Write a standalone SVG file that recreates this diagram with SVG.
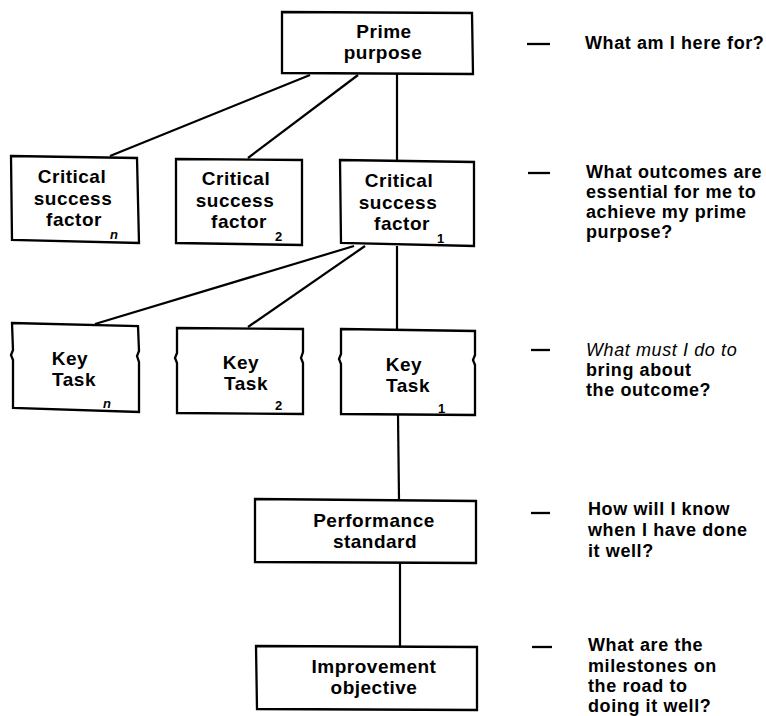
<svg xmlns="http://www.w3.org/2000/svg" width="766" height="716" viewBox="0 0 766 716">
<style>
.box{fill:#fff;stroke:#000;stroke-width:2.3;stroke-linejoin:miter}
.lbl{font-family:"Liberation Sans",Arial,sans-serif;font-weight:bold;font-size:19px;letter-spacing:0.5px;text-anchor:middle;fill:#000}
.sub{font-family:"Liberation Sans",Arial,sans-serif;font-weight:bold;font-size:13px;fill:#000}
.q{font-family:"Liberation Sans",Arial,sans-serif;font-weight:bold;font-size:18px;letter-spacing:0.6px;fill:#000}
.dash{stroke:#000;stroke-width:2.3}
.conn line{stroke:#000;stroke-width:2.2}
</style>
<rect width="766" height="716" fill="#fff"/>
<g class="conn" id="connectors">
<line x1="310" y1="75" x2="110" y2="156"/>
<line x1="358" y1="75" x2="248" y2="158"/>
<line x1="397" y1="74" x2="397" y2="160"/>
<line x1="354" y1="246" x2="95" y2="324"/>
<line x1="365" y1="246" x2="248" y2="327"/>
<line x1="397" y1="246" x2="397" y2="329"/>
<line x1="398" y1="415" x2="399" y2="499"/>
<line x1="400" y1="563" x2="400" y2="646"/>
</g>
<g id="prime">
<path class="box" d="M282,12 L472,13 L473,74 L282,73 Z"/>
<text class="lbl" x="384" y="38">Prime</text>
<text class="lbl" x="383" y="59">purpose</text>
</g>
<g id="csf-n">
<path class="box" d="M11,156 L137,158 L139,243 L12,240 Z"/>
<text class="lbl" x="72" y="183">Critical</text>
<text class="lbl" x="73" y="205">success</text>
<text class="lbl" x="74" y="226">factor</text>
<text class="sub" x="110" y="239" font-style="italic">n</text>
</g>
<g id="csf-2">
<path class="box" d="M176,159 L302,160 L302,245 L176,243 Z"/>
<text class="lbl" x="236" y="185">Critical</text>
<text class="lbl" x="235" y="207">success</text>
<text class="lbl" x="239" y="228">factor</text>
<text class="sub" x="275" y="241">2</text>
</g>
<g id="csf-1">
<path class="box" d="M340,160 L474,162 L474,246 L341,243 Z"/>
<text class="lbl" x="399" y="187">Critical</text>
<text class="lbl" x="398" y="209">success</text>
<text class="lbl" x="402" y="230">factor</text>
<text class="sub" x="437" y="243">1</text>
</g>
<g id="key-n">
<path class="box" d="M12,323 L138,326 L139,351 L137,356 L139,362 L139,412 L13,408 L13,360 L11,355 L13,350 Z"/>
<text class="lbl" x="70" y="365">Key</text>
<text class="lbl" x="74" y="386">Task</text>
<text class="sub" x="103" y="408" font-style="italic">n</text>
</g>
<g id="key-2">
<path class="box" d="M177,328 L303,329 L303,352 L301,358 L303,363 L303,414 L177,413 L177,363 L175,358 L177,353 Z"/>
<text class="lbl" x="241" y="369">Key</text>
<text class="lbl" x="246" y="390">Task</text>
<text class="sub" x="275" y="410">2</text>
</g>
<g id="key-1">
<path class="box" d="M341,329 L475,331 L475,355 L473,360 L475,365 L475,415 L341,414 L341,364 L339,359 L341,354 Z"/>
<text class="lbl" x="404" y="371">Key</text>
<text class="lbl" x="408" y="392">Task</text>
<text class="sub" x="438" y="413">1</text>
</g>
<g id="performance">
<path class="box" d="M255,499 L476,501 L476,563 L255,562 Z"/>
<text class="lbl" x="374" y="527">Performance</text>
<text class="lbl" x="375" y="548">standard</text>
</g>
<g id="improvement">
<path class="box" d="M256,646 L477,647 L477,710 L257,709 Z"/>
<text class="lbl" x="374" y="673">Improvement</text>
<text class="lbl" x="374" y="694">objective</text>
</g>
<g id="questions">
<line class="dash" x1="527" y1="44" x2="550" y2="44"/>
<text class="q" x="585" y="49">What am I here for?</text>
<line class="dash" x1="528" y1="173" x2="550" y2="173"/>
<text class="q" x="586" y="178">What outcomes are</text>
<text class="q" x="586" y="198">essential for me to</text>
<text class="q" x="586" y="218">achieve my prime</text>
<text class="q" x="586" y="238">purpose?</text>
<line class="dash" x1="531" y1="350" x2="550" y2="350"/>
<text class="q" x="586" y="356" style="font-style:italic;font-weight:normal">What must I do to</text>
<text class="q" x="586" y="376">bring about</text>
<text class="q" x="586" y="396">the outcome?</text>
<line class="dash" x1="531" y1="513" x2="550" y2="513"/>
<text class="q" x="588" y="515">How will I know</text>
<text class="q" x="588" y="536">when I have done</text>
<text class="q" x="588" y="557">it well?</text>
<line class="dash" x1="532" y1="647" x2="552" y2="647"/>
<text class="q" x="588" y="651">What are the</text>
<text class="q" x="588" y="672">milestones on</text>
<text class="q" x="588" y="692">the road to</text>
<text class="q" x="588" y="712">doing it well?</text>
</g>
</svg>
